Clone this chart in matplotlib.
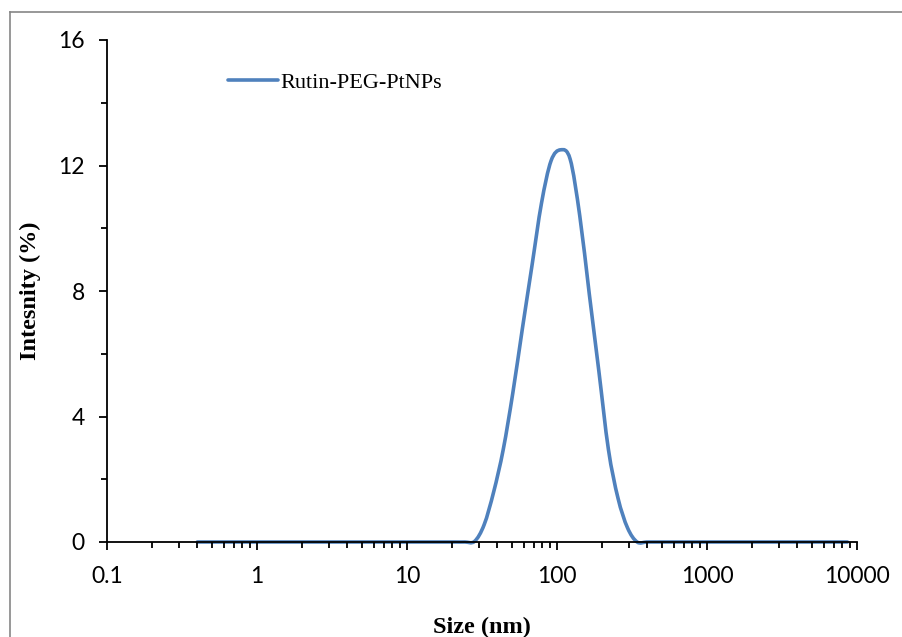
import numpy as np
import matplotlib
matplotlib.use('Agg')
import matplotlib.pyplot as plt
from matplotlib.lines import Line2D
from matplotlib.path import Path
from matplotlib.patches import PathPatch
from matplotlib.ticker import LogLocator, FixedLocator, NullFormatter

# DLS size bins (nm) and intensity (%)
size_nm = [0.4, 0.4632, 0.5365, 0.6213, 0.7195, 0.8332, 0.9649, 1.117, 1.294, 1.499,
           1.736, 2.010, 2.328, 2.696, 3.122, 3.615, 4.187, 4.849, 5.615, 6.503,
           7.531, 8.721, 10.10, 11.70, 13.54, 15.69, 18.17, 21.04, 24.36, 28.21,
           32.67, 37.84, 43.82, 50.75, 58.77, 68.06, 78.82, 91.28, 105.7, 122.4,
           141.8, 164.2, 190.1, 220.2, 255.0, 295.3, 342.0, 396.1, 458.7, 531.2,
           615.1, 712.4, 825.0, 955.4, 1106, 1281, 1484, 1718, 1990, 2305,
           2669, 3091, 3580, 4145, 4801, 5560, 6439, 7456, 8635]
intensity = [0]*29 + [0.02, 0.55, 1.6, 2.95, 4.75, 6.8, 8.8, 10.8, 12.15, 12.5, 12.2,
                      10.4, 7.9, 5.45, 2.95, 1.4, 0.45] + [0]*23

series_name = 'Rutin-PEG-PtNPs'
x_ticks = [0.1, 1, 10, 100, 1000, 10000]
x_ticklabels = ['0.1', '1', '10', '100', '1000', '10000']
y_ticks = [0, 4, 8, 12, 16]
line_color = '#4F81BD'


def smooth_path(x, y):
    # Excel-style smoothed line: Catmull-Rom segments as cubic Beziers,
    # computed in log-x space so the curve is smooth on the log axis
    lx = np.log10(np.asarray(x, float))
    yy = np.asarray(y, float)
    n = len(lx)
    verts = [(x[0], yy[0])]
    codes = [Path.MOVETO]
    for i in range(n - 1):
        i0 = max(i - 1, 0)
        i3 = min(i + 2, n - 1)
        c1x = lx[i] + (lx[i + 1] - lx[i0]) / 6
        c1y = yy[i] + (yy[i + 1] - yy[i0]) / 6
        c2x = lx[i + 1] - (lx[i3] - lx[i]) / 6
        c2y = yy[i + 1] - (yy[i3] - yy[i]) / 6
        verts += [(10**c1x, c1y), (10**c2x, c2y), (x[i + 1], yy[i + 1])]
        codes += [Path.CURVE4] * 3
    return Path(verts, codes)


fig = plt.figure(figsize=(9.03, 6.37), dpi=100)
ax = fig.add_axes([107/903, 95/637, 750/903, 502/637])

ax.set_xscale('log')
ax.set_xlim(0.1, 10000)
ax.set_ylim(0, 16)

ax.add_patch(PathPatch(smooth_path(size_nm, intensity), fill=False,
                       edgecolor=line_color, lw=2.6, capstyle='round',
                       joinstyle='round', clip_on=False))

ax.xaxis.set_major_locator(FixedLocator(x_ticks))
ax.set_xticklabels(x_ticklabels)
ax.xaxis.set_minor_locator(LogLocator(base=10, subs=np.arange(2, 10), numticks=20))
ax.xaxis.set_minor_formatter(NullFormatter())
ax.set_yticks(y_ticks)
ax.set_yticks([2, 6, 10, 14], minor=True)

for s in ['top', 'right']:
    ax.spines[s].set_visible(False)
for s in ['left', 'bottom']:
    ax.spines[s].set_linewidth(1.3)
    ax.spines[s].set_color('black')

tick_font = 'Lato'
ax.tick_params(axis='both', which='major', direction='out', length=6, width=1.3,
               labelsize=16.5, pad=10)
ax.tick_params(axis='both', which='minor', direction='out', length=4.5, width=1.3)
ax.tick_params(axis='x', which='major', pad=11)
for lab in ax.get_xticklabels() + ax.get_yticklabels():
    lab.set_fontfamily(tick_font)

ax.set_xlabel('Size (nm)', fontfamily='Liberation Serif', fontweight='bold',
              fontsize=17.5, labelpad=22)
ax.set_ylabel('Intesnity (%)', fontfamily='Liberation Serif', fontweight='bold',
              fontsize=17.5, labelpad=12)

handle = Line2D([], [], color=line_color, lw=2.6, solid_capstyle='round')
ax.legend([handle], [series_name], loc='upper left', bbox_to_anchor=(0.135, 0.975),
          frameon=False, prop={'family': 'Liberation Serif', 'size': 16},
          handlelength=2.25, handletextpad=0.1)

# outer chart border (gray), only top and left are inside the image
fig.add_artist(Line2D([10/903, 10/903], [0, 1 - 12/637], transform=fig.transFigure,
                      color='#868686', lw=1.2))
fig.add_artist(Line2D([10/903, 1], [1 - 12/637, 1 - 12/637], transform=fig.transFigure,
                      color='#868686', lw=1.2))

fig.savefig('out.png', dpi=100)
